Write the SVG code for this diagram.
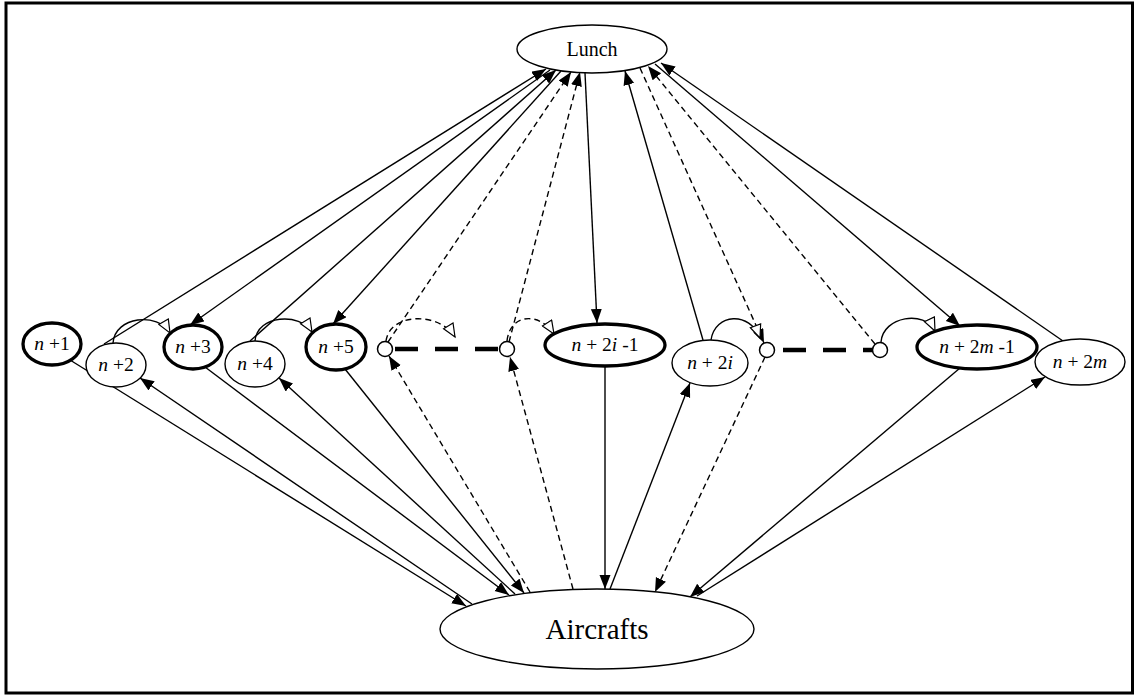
<svg xmlns="http://www.w3.org/2000/svg" width="1135" height="695" viewBox="0 0 1135 695">
<defs>
<style>
.frame{fill:none;stroke:#000;stroke-width:3}
.node{fill:#fff;stroke:#000;stroke-width:1.4}
.bold{stroke-width:3.3}
.dot{fill:#fff;stroke:#000;stroke-width:1.5}
.lbl{font-family:"Liberation Serif","Times New Roman",serif;font-size:19.5px;fill:#000;text-anchor:middle}
.it{font-style:italic}
.e{fill:none;stroke:#000;stroke-width:1.4}
.d{stroke-dasharray:6 4}
.chain{fill:none;stroke:#000;stroke-width:4.5;stroke-dasharray:23 17}
</style>
<marker id="a" markerUnits="userSpaceOnUse" markerWidth="15" markerHeight="12" viewBox="0 0 15 12" refX="14" refY="5.5" orient="auto"><path d="M0,0 L14,5.5 L0,11 z" fill="#000"/></marker>
<marker id="o" markerUnits="userSpaceOnUse" markerWidth="16" markerHeight="13" viewBox="-1 -1 16 13" refX="13" refY="5.5" orient="auto"><path d="M0,0 L13,5.5 L0,11 z" fill="#fff" stroke="#000" stroke-width="1.2"/></marker>
</defs>
<rect class="frame" x="6" y="3" width="1126.5" height="690"/>
<g id="connectors">
<line class="e" x1="104" y1="344" x2="546" y2="69" marker-end="url(#a)"/>
<line class="e" x1="550" y1="70" x2="190" y2="325" marker-end="url(#a)"/>
<line class="e" x1="250" y1="341" x2="556" y2="70" marker-end="url(#a)"/>
<line class="e" x1="561" y1="71" x2="333" y2="324" marker-end="url(#a)"/>
<line class="e d" x1="388" y1="342" x2="571" y2="72" marker-end="url(#a)"/>
<line class="e d" x1="509" y1="342" x2="580" y2="72" marker-end="url(#a)"/>
<line class="e" x1="585" y1="73" x2="597" y2="323" marker-end="url(#a)"/>
<line class="e" x1="703" y1="340" x2="625" y2="71" marker-end="url(#a)"/>
<line class="e d" x1="640" y1="68" x2="764" y2="343" marker-end="url(#a)"/>
<line class="e d" x1="875" y1="344" x2="648" y2="66" marker-end="url(#a)"/>
<line class="e" x1="655" y1="64" x2="960" y2="326" marker-end="url(#a)"/>
<line class="e" x1="1063" y1="341" x2="661" y2="63" marker-end="url(#a)"/>
<line class="e" x1="70" y1="360" x2="466" y2="606" marker-end="url(#a)"/>
<line class="e" x1="472" y1="604" x2="140" y2="378" marker-end="url(#a)"/>
<line class="e" x1="205" y1="367" x2="509" y2="595" marker-end="url(#a)"/>
<line class="e" x1="515" y1="594" x2="279" y2="378" marker-end="url(#a)"/>
<line class="e" x1="345" y1="369" x2="524" y2="593" marker-end="url(#a)"/>
<line class="e d" x1="530" y1="592" x2="389" y2="356" marker-end="url(#a)"/>
<line class="e d" x1="573" y1="589" x2="510" y2="357" marker-end="url(#a)"/>
<line class="e" x1="605" y1="366" x2="605" y2="589" marker-end="url(#a)"/>
<line class="e" x1="610" y1="589" x2="690" y2="383" marker-end="url(#a)"/>
<line class="e d" x1="765" y1="357" x2="655" y2="592" marker-end="url(#a)"/>
<line class="e" x1="960" y1="368" x2="690" y2="597" marker-end="url(#a)"/>
<line class="e" x1="697" y1="596" x2="1045" y2="377" marker-end="url(#a)"/>
<path class="e" d="M113,343 C115,316 158,312 170,333" marker-end="url(#o)"/>
<path class="e" d="M255,341 C257,315 300,312 312,332" marker-end="url(#o)"/>
<path class="e d" d="M386,341 C390,312 440,312 455,337" marker-end="url(#o)"/>
<path class="e d" d="M507,341 C510,313 540,312 554,334" marker-end="url(#o)"/>
<path class="e" d="M711,340 C715,313 750,311 760,338" marker-end="url(#o)"/>
<path class="e" d="M881,342 C883,316 925,310 935,331" marker-end="url(#o)"/>
<line class="chain" x1="395" y1="349" x2="499" y2="349"/>
<line class="chain" x1="783" y1="350" x2="873" y2="350"/>
</g>
<g id="lunch"><ellipse class="node" cx="592" cy="49" rx="75" ry="24"/><text class="lbl" x="592" y="56" style="font-size:20px">Lunch</text></g>
<g id="aircrafts"><ellipse class="node" cx="597" cy="629" rx="157" ry="40"/><text class="lbl" x="597" y="639" style="font-size:29px">Aircrafts</text></g>
<g id="n1"><ellipse class="node bold" cx="52" cy="344" rx="29" ry="21"/><text class="lbl" x="52" y="350"><tspan class="it">n</tspan> +1</text></g>
<g id="n2"><ellipse class="node" cx="116" cy="365" rx="30" ry="22"/><text class="lbl" x="116" y="371"><tspan class="it">n</tspan> +2</text></g>
<g id="n3"><ellipse class="node bold" cx="193" cy="347" rx="29" ry="22"/><text class="lbl" x="193" y="353"><tspan class="it">n</tspan> +3</text></g>
<g id="n4"><ellipse class="node" cx="255" cy="364" rx="30" ry="23"/><text class="lbl" x="255" y="370"><tspan class="it">n</tspan> +4</text></g>
<g id="n5"><ellipse class="node bold" cx="336" cy="347" rx="30" ry="23"/><text class="lbl" x="336" y="353"><tspan class="it">n</tspan> +5</text></g>
<g id="c1"><circle class="dot" cx="385" cy="349" r="7.5"/></g>
<g id="c2"><circle class="dot" cx="507" cy="349" r="7.5"/></g>
<g id="n2i1"><ellipse class="node bold" cx="605" cy="345" rx="60" ry="21"/><text class="lbl" x="605" y="351"><tspan class="it">n</tspan> + 2<tspan class="it">i</tspan> -1</text></g>
<g id="n2i"><ellipse class="node" cx="710" cy="363" rx="38" ry="23"/><text class="lbl" x="710" y="369"><tspan class="it">n</tspan> + 2<tspan class="it">i</tspan></text></g>
<g id="c3"><circle class="dot" cx="767" cy="350" r="7.5"/></g>
<g id="c4"><circle class="dot" cx="880" cy="350" r="7.5"/></g>
<g id="n2m1"><ellipse class="node bold" cx="977" cy="347" rx="60" ry="22"/><text class="lbl" x="977" y="353"><tspan class="it">n</tspan> + 2<tspan class="it">m</tspan> -1</text></g>
<g id="n2m"><ellipse class="node" cx="1080" cy="362" rx="45" ry="23"/><text class="lbl" x="1080" y="368"><tspan class="it">n</tspan> + 2<tspan class="it">m</tspan></text></g>
</svg>
